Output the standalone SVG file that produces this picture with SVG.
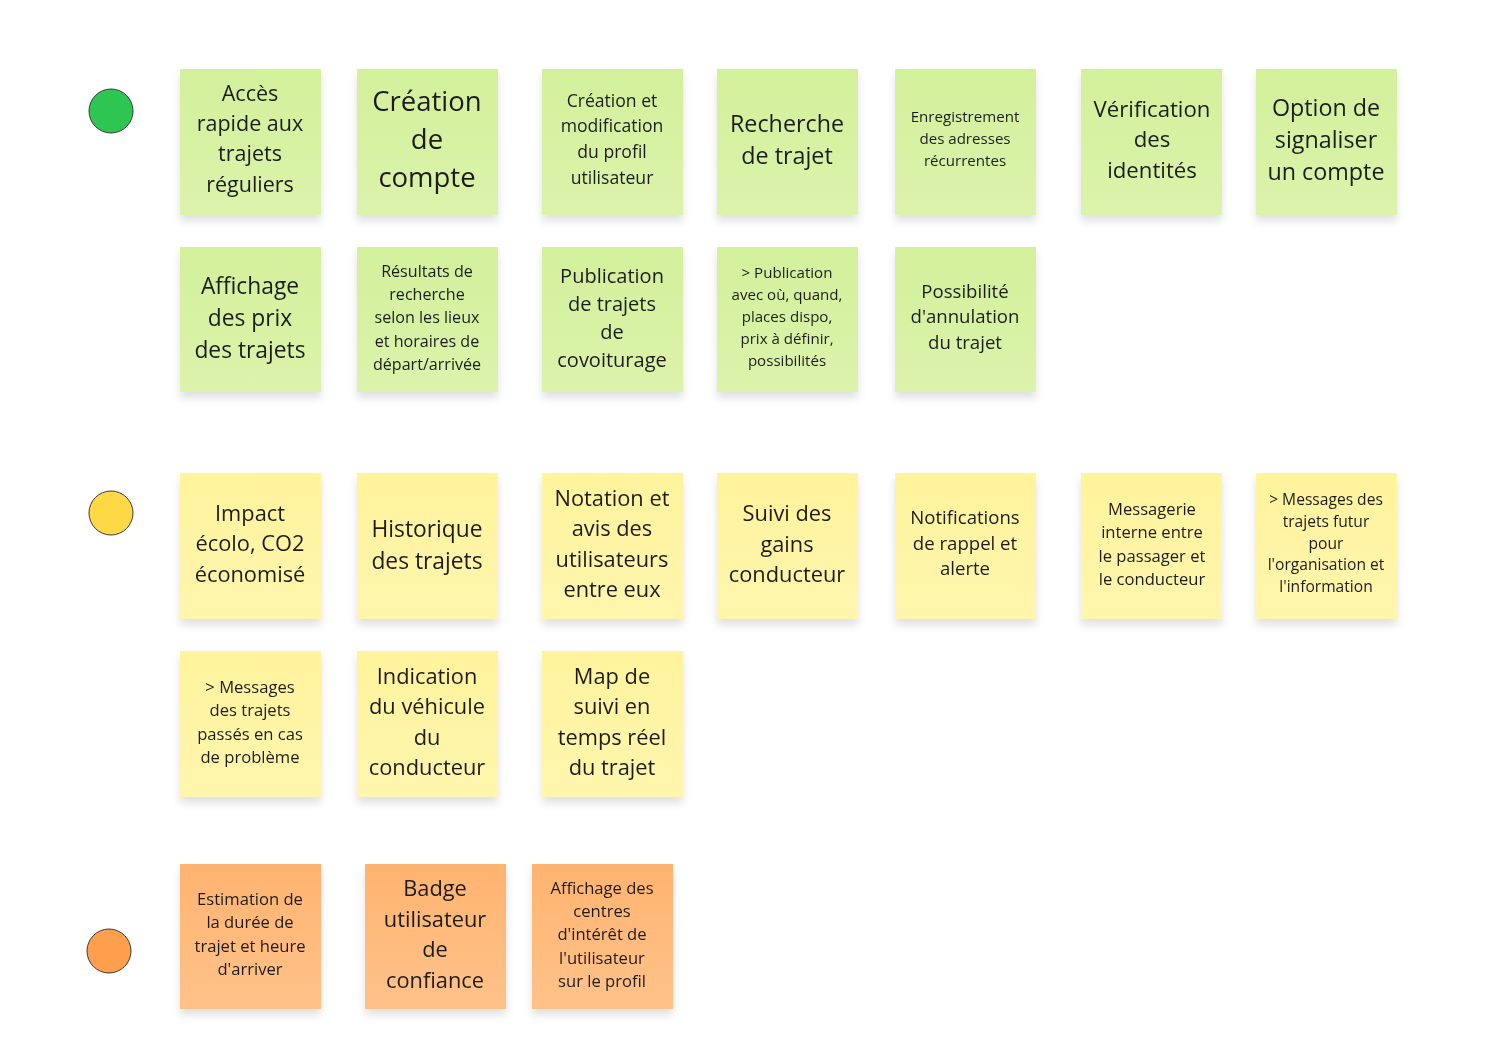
<svg xmlns="http://www.w3.org/2000/svg" width="1488" height="1049" viewBox="0 0 1488 1049">
<defs>
<linearGradient id="gG" x1="0" y1="0" x2="0" y2="1"><stop offset="0" stop-color="#d3f09b"/><stop offset="1" stop-color="#dbf3ab"/></linearGradient>
<linearGradient id="gY" x1="0" y1="0" x2="0" y2="1"><stop offset="0" stop-color="#fff39c"/><stop offset="1" stop-color="#fff6ae"/></linearGradient>
<linearGradient id="gO" x1="0" y1="0" x2="0" y2="1"><stop offset="0" stop-color="#ffb36f"/><stop offset="1" stop-color="#ffc28a"/></linearGradient>
<filter id="sh" x="-20%" y="-20%" width="140%" height="150%"><feDropShadow dx="0" dy="6" stdDeviation="4" flood-color="#000" flood-opacity="0.12"/></filter>
<style>
text{font-family:"Open Sans","Noto Sans","DejaVu Sans",sans-serif;fill:#1e1e1e;text-anchor:middle}
.n{filter:url(#sh)}
.g{fill:url(#gG)}
.y{fill:url(#gY)}
.o{fill:url(#gO)}
.dot{stroke:#3a3a3a;stroke-width:1}
</style>
</defs>
<rect width="1488" height="1049" fill="#fff"/>
<g id="legend">
<circle class="dot" cx="111" cy="111" r="22" fill="#2dc653"/>
<circle class="dot" cx="111" cy="513" r="22" fill="#ffd945"/>
<circle class="dot" cx="109" cy="951" r="22" fill="#ff9e4c"/>
</g>
<g id="connectors"></g>

<g id="g1" class="n"><rect class="g" x="180" y="69" width="141" height="146"/><text font-size="21.5"><tspan x="250" y="101">Accès</tspan><tspan x="250" y="131">rapide aux</tspan><tspan x="250" y="161">trajets</tspan><tspan x="250" y="192">réguliers</tspan></text></g>
<g id="g2" class="n"><rect class="g" x="357" y="69" width="141" height="146"/><text font-size="27.5"><tspan x="427" y="111">Création</tspan><tspan x="427" y="149">de</tspan><tspan x="427" y="187">compte</tspan></text></g>
<g id="g3" class="n"><rect class="g" x="542" y="69" width="141" height="146"/><text font-size="17.6"><tspan x="612" y="107">Création et</tspan><tspan x="612" y="132">modification</tspan><tspan x="612" y="158">du profil</tspan><tspan x="612" y="184">utilisateur</tspan></text></g>
<g id="g4" class="n"><rect class="g" x="717" y="69" width="141" height="146"/><text font-size="23.3"><tspan x="787" y="132">Recherche</tspan><tspan x="787" y="164">de trajet</tspan></text></g>
<g id="g5" class="n"><rect class="g" x="895" y="69" width="141" height="146"/><text font-size="15.1"><tspan x="965" y="122">Enregistrement</tspan><tspan x="965" y="144">des adresses</tspan><tspan x="965" y="166">récurrentes</tspan></text></g>
<g id="g6" class="n"><rect class="g" x="1081" y="69" width="141" height="146"/><text font-size="22.2"><tspan x="1152" y="117">Vérification</tspan><tspan x="1152" y="147">des</tspan><tspan x="1152" y="178">identités</tspan></text></g>
<g id="g7" class="n"><rect class="g" x="1256" y="69" width="141" height="146"/><text font-size="23.3"><tspan x="1326" y="116">Option de</tspan><tspan x="1326" y="148">signaliser</tspan><tspan x="1326" y="180">un compte</tspan></text></g>

<g id="g8" class="n"><rect class="g" x="180" y="247" width="141" height="145"/><text font-size="22.8"><tspan x="250" y="294">Affichage</tspan><tspan x="250" y="326">des prix</tspan><tspan x="250" y="358">des trajets</tspan></text></g>
<g id="g9" class="n"><rect class="g" x="357" y="247" width="141" height="145"/><text font-size="16.1"><tspan x="427" y="277">Résultats de</tspan><tspan x="427" y="300">recherche</tspan><tspan x="427" y="323">selon les lieux</tspan><tspan x="427" y="347">et horaires de</tspan><tspan x="427" y="370">départ/arrivée</tspan></text></g>
<g id="g10" class="n"><rect class="g" x="542" y="247" width="141" height="145"/><text font-size="20"><tspan x="612" y="283">Publication</tspan><tspan x="612" y="311">de trajets</tspan><tspan x="612" y="339">de</tspan><tspan x="612" y="367">covoiturage</tspan></text></g>
<g id="g11" class="n"><rect class="g" x="717" y="247" width="141" height="145"/><text font-size="15.1"><tspan x="787" y="278">&gt; Publication</tspan><tspan x="787" y="300">avec où, quand,</tspan><tspan x="787" y="322">places dispo,</tspan><tspan x="787" y="344">prix à définir,</tspan><tspan x="787" y="366">possibilités</tspan></text></g>
<g id="g12" class="n"><rect class="g" x="895" y="247" width="141" height="145"/><text font-size="18.6"><tspan x="965" y="298">Possibilité</tspan><tspan x="965" y="323">d'annulation</tspan><tspan x="965" y="349">du trajet</tspan></text></g>

<g id="y1" class="n"><rect class="y" x="180" y="473" width="141" height="146"/><text font-size="21.8"><tspan x="250" y="521">Impact</tspan><tspan x="250" y="551">écolo, CO2</tspan><tspan x="250" y="582">économisé</tspan></text></g>
<g id="y2" class="n"><rect class="y" x="357" y="473" width="141" height="146"/><text font-size="22.8"><tspan x="427" y="537">Historique</tspan><tspan x="427" y="569">des trajets</tspan></text></g>
<g id="y3" class="n"><rect class="y" x="542" y="473" width="141" height="146"/><text font-size="21.8"><tspan x="612" y="506">Notation et</tspan><tspan x="612" y="536">avis des</tspan><tspan x="612" y="567">utilisateurs</tspan><tspan x="612" y="597">entre eux</tspan></text></g>
<g id="y4" class="n"><rect class="y" x="717" y="473" width="141" height="146"/><text font-size="21.8"><tspan x="787" y="521">Suivi des</tspan><tspan x="787" y="552">gains</tspan><tspan x="787" y="582">conducteur</tspan></text></g>
<g id="y5" class="n"><rect class="y" x="895" y="473" width="141" height="146"/><text font-size="18.6"><tspan x="965" y="524">Notifications</tspan><tspan x="965" y="550">de rappel et</tspan><tspan x="965" y="575">alerte</tspan></text></g>
<g id="y6" class="n"><rect class="y" x="1081" y="473" width="141" height="146"/><text font-size="16.6"><tspan x="1152" y="515">Messagerie</tspan><tspan x="1152" y="538">interne entre</tspan><tspan x="1152" y="562">le passager et</tspan><tspan x="1152" y="585">le conducteur</tspan></text></g>
<g id="y7" class="n"><rect class="y" x="1256" y="473" width="141" height="146"/><text font-size="15.6"><tspan x="1326" y="505">&gt; Messages des</tspan><tspan x="1326" y="527">trajets futur</tspan><tspan x="1326" y="549">pour</tspan><tspan x="1326" y="570">l'organisation et</tspan><tspan x="1326" y="592">l'information</tspan></text></g>

<g id="y8" class="n"><rect class="y" x="180" y="651" width="141" height="146"/><text font-size="16.6"><tspan x="250" y="693">&gt; Messages</tspan><tspan x="250" y="716">des trajets</tspan><tspan x="250" y="740">passés en cas</tspan><tspan x="250" y="763">de problème</tspan></text></g>
<g id="y9" class="n"><rect class="y" x="357" y="651" width="141" height="146"/><text font-size="21.8"><tspan x="427" y="684">Indication</tspan><tspan x="427" y="714">du véhicule</tspan><tspan x="427" y="745">du</tspan><tspan x="427" y="775">conducteur</tspan></text></g>
<g id="y10" class="n"><rect class="y" x="542" y="651" width="141" height="146"/><text font-size="21.8"><tspan x="612" y="684">Map de</tspan><tspan x="612" y="714">suivi en</tspan><tspan x="612" y="745">temps réel</tspan><tspan x="612" y="775">du trajet</tspan></text></g>

<g id="o1" class="n"><rect class="o" x="180" y="864" width="141" height="145"/><text font-size="16.6"><tspan x="250" y="905">Estimation de</tspan><tspan x="250" y="928">la durée de</tspan><tspan x="250" y="952">trajet et heure</tspan><tspan x="250" y="975">d'arriver</tspan></text></g>
<g id="o2" class="n"><rect class="o" x="365" y="864" width="141" height="145"/><text font-size="21.8"><tspan x="435" y="896">Badge</tspan><tspan x="435" y="927">utilisateur</tspan><tspan x="435" y="957">de</tspan><tspan x="435" y="988">confiance</tspan></text></g>
<g id="o3" class="n"><rect class="o" x="532" y="864" width="141" height="145"/><text font-size="16.6"><tspan x="602" y="894">Affichage des</tspan><tspan x="602" y="917">centres</tspan><tspan x="602" y="940">d'intérêt de</tspan><tspan x="602" y="964">l'utilisateur</tspan><tspan x="602" y="987">sur le profil</tspan></text></g>
</svg>
